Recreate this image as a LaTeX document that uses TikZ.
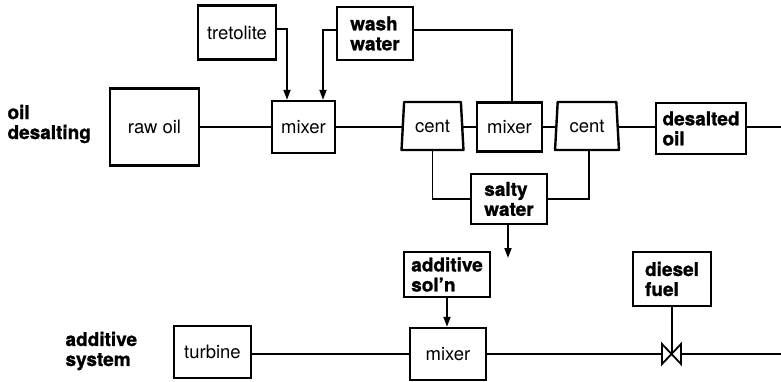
\documentclass[tikz,border=0pt]{standalone}
\usepackage{fontspec}
\setmainfont{TeX Gyre Heros}[BoldFeatures={FakeBold=1.2}]
\usetikzlibrary{arrows.meta,shapes.geometric}
\begin{document}
\begin{tikzpicture}[x=1pt,y=-1pt,
  font=\fontsize{18.5}{21}\selectfont,
  box/.style={draw,line width=2.4pt,inner sep=0pt,align=left},
  bbox/.style={box,font=\fontsize{19}{20}\selectfont\bfseries},
  cent/.style={draw,line width=2.4pt,line join=round,trapezium,trapezium stretches=true,trapezium angle=82.9,inner sep=0pt},
  conn/.style={line width=1.8pt},
  arr/.style={conn,-{Triangle[length=10pt,width=7pt]}},
  lab/.style={font=\fontsize{19}{20}\selectfont\bfseries,align=left,anchor=west}]
\useasboundingbox (0,0) rectangle (781,382);
% oil desalting
\node[box,minimum width=78pt,minimum height=54pt] (tret) at (237,32.5) {tretolite};
\node[bbox,minimum width=76pt,minimum height=53pt] (wash) at (375,33.5) {wash\\water};
\node[box,minimum width=89pt,minimum height=77pt] (raw) at (154.5,127) {raw oil};
\node[box,minimum width=63pt,minimum height=52pt] (mix1) at (303.5,127) {mixer};
\node[cent,minimum width=62pt,minimum height=48pt] (cent1) at (432.5,126) {cent};
\node[box,minimum width=65pt,minimum height=49pt] (mix2) at (509.5,127) {mixer};
\node[cent,minimum width=64pt,minimum height=48pt] (cent2) at (587,126) {cent};
\node[bbox,minimum width=90pt,minimum height=51pt] (des) at (701,128.5) {desalted\\oil};
\node[bbox,minimum width=76pt,minimum height=50pt] (salty) at (509,199) {salty\\water};
\coordinate (out1) at (781,127);
\coordinate (saltyend) at (508,258);
\node[lab] (oillab) at (4,124) {oil\\desalting};
% additive system
\node[bbox,minimum width=86pt,minimum height=45pt] (addsol) at (447,274.5) {additive\\sol'n};
\node[box,minimum width=76pt,minimum height=52pt] (mix3) at (448,354) {mixer};
\node[box,minimum width=77pt,minimum height=52pt] (turb) at (212.5,352) {turbine};
\node[bbox,minimum width=78pt,minimum height=54pt] (diesel) at (672,279) {diesel\\fuel};
\node[lab] (addlab) at (62,351) {additive\\system};
\coordinate (vL) at (662,354);
\coordinate (vR) at (681,354);
\coordinate (vC) at (672,354);
\coordinate (out2) at (781,354);
% connectors top
\draw[conn] (raw.east |- mix1.west) -- (mix1.west);
\draw[arr] ([yshift=3.5pt]tret.east) -| ([xshift=-16.5pt]mix1.north);
\draw[arr] ([yshift=3.5pt]wash.west) -| ([xshift=19.5pt]mix1.north);
\draw[conn] ([yshift=3.5pt]wash.east) -| ([xshift=2.5pt]mix2.north);
\draw[conn] (mix1.east) -- (mix1.east -| cent1.west);
\draw[conn] (cent1.east |- mix2.west) -- (mix2.west);
\draw[conn] (mix2.east) -- (mix2.east -| cent2.west);
\draw[conn] (cent2.east |- mix2.east) -- (des.west |- mix2.east);
\draw[conn] (des.east |- out1) -- (out1);
\draw[conn] (cent1.south) |- (salty.west);
\draw[conn] ([xshift=2pt]cent2.south) |- (salty.east);
\draw[arr] (salty.south -| saltyend) -- (saltyend);
% connectors bottom
\draw[arr] (addsol.south) -- (addsol.south |- mix3.north);
\draw[conn] (turb.east |- mix3.west) -- (mix3.west);
\draw[conn] (mix3.east) -- (vL);
\draw[conn] (vR) -- (out2);
\draw[conn] (diesel.south) -- (vC);
\draw[line width=1.8pt,fill=white] (662,344) -- (681,364) -- (681,344) -- (662,364) -- cycle;
\end{tikzpicture}
\end{document}
